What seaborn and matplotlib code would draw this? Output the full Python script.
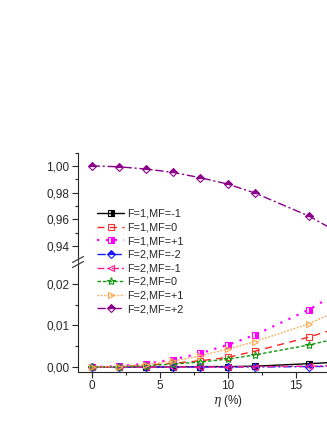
import numpy as np
import pandas as pd
import matplotlib
matplotlib.use("Agg")
import matplotlib.pyplot as plt
import matplotlib.ticker as mticker
import matplotlib.lines as mlines
import seaborn as sns

# ---- data ----
eta = [0, 2, 4, 6, 8, 10, 12, 16, 20]
f1_m1 = [0, 0, 0, 0, 0.0001, 0.0001, 0.0002, 0.0008, 0.0015]
f1_0 = [0, 0.0001, 0.0004, 0.0009, 0.0015, 0.0023, 0.0038, 0.0072, 0.0113]
f1_p1 = [0, 0.0002, 0.0008, 0.0018, 0.0033, 0.0053, 0.0077, 0.0138, 0.0215]
f2_m2 = [0, 0, 0, 0, 0, 0, 0, 0.0001, 0.0002]
f2_m1 = [0, 0, 0, 0, 0, 0, 0.0001, 0.0002, 0.0004]
f2_0 = [0, 0.0001, 0.0003, 0.0007, 0.0012, 0.0019, 0.0029, 0.0053, 0.0083]
f2_p1 = [0, 0.0001, 0.0006, 0.0014, 0.0027, 0.0043, 0.0061, 0.0104, 0.0163]
f2_p2 = [1.0, 0.9993, 0.9976, 0.9951, 0.9911, 0.9864, 0.9797, 0.9623, 0.9395]
labels = ["F=1,MF=-1", "F=1,MF=0", "F=1,MF=+1", "F=2,MF=-2",
          "F=2,MF=-1", "F=2,MF=0", "F=2,MF=+1", "F=2,MF=+2"]
series = [f1_m1, f1_0, f1_p1, f2_m2, f2_m1, f2_0, f2_p1, f2_p2]
x_ticks = [0, 5, 10, 15]

styles = [
    dict(color="black", linestyle="-", marker="s", fillstyle="right", mfc="black", mec="black"),
    dict(color="#ff2020", linestyle=(0, (5, 4)), marker="s", mfc="none", mec="#ff3030"),
    dict(color="#ff00ff", linestyle=(0, (1, 3)), marker="s", fillstyle="right", mfc="#ff00ff", mec="#ff00ff", linewidth=1.6),
    dict(color="#1a1aff", linestyle=(0, (6, 2, 1.5, 2)), marker="D", fillstyle="top", mfc="#1a1aff", mec="#1a1aff", markersize=4),
    dict(color="#ff1a8c", linestyle=(0, (5, 2, 1.5, 2)), marker="<", mfc="none", mec="#ff1a8c"),
    dict(color="#129a12", linestyle=(0, (2.5, 1.5)), marker="*", mfc="none", mec="#129a12", markersize=6),
    dict(color="#ffa54a", linestyle=(0, (1.2, 1.2)), marker=">", mfc="none", mec="#ffa54a"),
    dict(color="#8b008b", linestyle=(0, (6, 2, 1.5, 2)), marker="D", fillstyle="top", mfc="#8b008b", mec="#8b008b", markersize=4),
]

sns.set_style("ticks")
plt.rcParams["font.family"] = ["Liberation Sans", "DejaVu Sans"]
plt.rcParams["mathtext.fontset"] = "dejavuserif"

fig = plt.figure(figsize=(3.27, 4.23), dpi=100)
W = 327.0
H = 423.0
left = 78 / W
width = 22 * 13.6 / W
ax_top = fig.add_axes([left, 1 - 258 / H, width, (258 - 152.5) / H])
ax_bot = fig.add_axes([left, 1 - 372 / H, width, (372 - 265) / H])

for ax in (ax_top, ax_bot):
    for lab, ys, st in zip(labels, series, styles):
        st2 = dict(st)
        lw = st2.pop("linewidth", 1.0)
        ms = st2.pop("markersize", 4.5)
        sns.lineplot(x=eta, y=ys, ax=ax, linewidth=lw, markersize=ms,
                     markeredgewidth=0.8, legend=False, clip_on=True, **st2)

ax_top.set_xlim(-1, 21)
ax_bot.set_xlim(-1, 21)
ax_top.set_ylim(0.931, 1.0100)
ax_bot.set_ylim(-0.0012, 0.0245)

for ax in (ax_top, ax_bot):
    ax.spines["right"].set_visible(False)
    ax.spines["top"].set_visible(False)
    ax.tick_params(axis="both", direction="out", length=4, width=0.8, labelsize=8.5, pad=2)
    ax.tick_params(axis="both", which="minor", direction="out", length=2, width=0.8)

ax_top.spines["bottom"].set_visible(False)
ax_top.tick_params(axis="x", which="both", bottom=False, labelbottom=False)

fmt = mticker.FuncFormatter(lambda v, p: f"{v:.2f}".replace(".", ","))
ax_top.yaxis.set_major_locator(mticker.FixedLocator([0.94, 0.96, 0.98, 1.00]))
ax_top.yaxis.set_minor_locator(mticker.FixedLocator([0.95, 0.97, 0.99, 1.01]))
ax_top.yaxis.set_major_formatter(fmt)

ax_bot.yaxis.set_major_locator(mticker.FixedLocator([0.0, 0.01, 0.02]))
ax_bot.yaxis.set_minor_locator(mticker.FixedLocator([0.005, 0.015]))
ax_bot.yaxis.set_major_formatter(fmt)
ax_bot.xaxis.set_major_locator(mticker.FixedLocator(x_ticks))
ax_bot.xaxis.set_minor_locator(mticker.FixedLocator([2.5, 7.5, 12.5, 17.5]))
ax_bot.set_xlabel(r"$\eta$ (%)", fontsize=8.5, labelpad=0.5)

# axis break marks
for yy in (259.5, 264.5):
    y0 = 1 - (yy + 3) / H
    y1 = 1 - (yy - 3) / H
    fig.add_artist(mlines.Line2D([(72.5) / W, (83.5) / W], [y0, y1], color="#444444", lw=0.9))
fig.add_artist(mlines.Line2D([left, left], [1 - 258 / H, 1 - 265 / H], color="#404040", lw=0.8))

# legend
leg_handles = [mlines.Line2D([], [], linewidth=s.get("linewidth", 1.0), markersize=s.get("markersize", 4.5),
                             markeredgewidth=0.8,
                             **{k: v for k, v in s.items() if k not in ("linewidth", "markersize")})
               for s in styles]
fig.legend(leg_handles, labels, loc="upper left", bbox_to_anchor=(97 / W, 1 - 209 / H),
           frameon=False, fontsize=7.8, handlelength=2.5, handletextpad=0.3,
           labelspacing=0.33, borderaxespad=0, borderpad=0)

fig.savefig("out.png", dpi=100)
